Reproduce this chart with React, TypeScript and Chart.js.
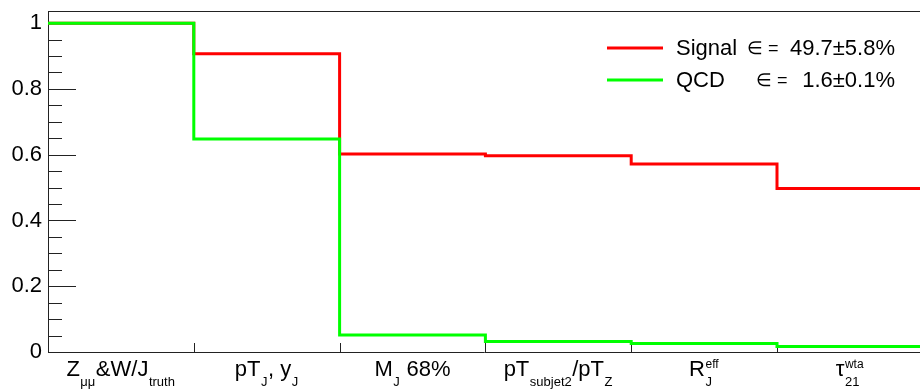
import React, { useEffect, useRef } from "react";
import { Chart, registerables } from "chart.js";

Chart.register(...registerables);

// ---- Data ----
const categories = [
  "Z_{μμ}&W/J_{truth}",
  "pT_{J}, y_{J}",
  "M_{J} 68%",
  "pT_{subjet2}/pT_{Z}",
  "R^{eff}_{J}",
  "τ^{wta}_{21}",
];
const signalValues = [1.0, 0.907, 0.602, 0.597, 0.572, 0.497];
const qcdValues = [1.0, 0.648, 0.052, 0.032, 0.026, 0.017];
const seriesNames = ["Signal", "QCD"];
const seriesEff = ["49.7±5.8%", "1.6±0.1%"];
const seriesColors = ["#ff0000", "#00ff00"];
const yTickValues = [0, 0.2, 0.4, 0.6, 0.8, 1];
const yTickLabels = ["0", "0.2", "0.4", "0.6", "0.8", "1"];
const yMinorStep = 0.05;
const yMax = 1.037;

const FONT = "'Liberation Sans', Arial, Helvetica, sans-serif";
const BASE_SIZE = 22;
const SUB_SIZE = 13;
const SUP_SIZE = 12;

type Seg = { kind: "base"; t: string } | { kind: "script"; sup?: string; sub?: string };

function parseLatex(s: string): Seg[] {
  const segs: Seg[] = [];
  let i = 0;
  let buf = "";
  const readGroup = () => {
    if (s[i] === "{") {
      const j = s.indexOf("}", i);
      const g = s.slice(i + 1, j);
      i = j + 1;
      return g;
    }
    const c = s[i];
    i++;
    return c;
  };
  while (i < s.length) {
    const c = s[i];
    if (c === "_" || c === "^") {
      if (buf) {
        segs.push({ kind: "base", t: buf });
        buf = "";
      }
      const sc: any = { kind: "script" };
      while (i < s.length && (s[i] === "_" || s[i] === "^")) {
        const k = s[i];
        i++;
        const g = readGroup();
        if (k === "_") sc.sub = g;
        else sc.sup = g;
      }
      segs.push(sc);
    } else {
      buf += c;
      i++;
    }
  }
  if (buf) segs.push({ kind: "base", t: buf });
  return segs;
}

function drawRich(ctx: CanvasRenderingContext2D, text: string, cx: number, baseline: number) {
  const segs = parseLatex(text);
  const widths: number[] = segs.map((sg) => {
    if (sg.kind === "base") {
      ctx.font = `${BASE_SIZE}px ${FONT}`;
      return ctx.measureText(sg.t).width;
    }
    let w = 0;
    if (sg.sub) {
      ctx.font = `${SUB_SIZE}px ${FONT}`;
      w = Math.max(w, ctx.measureText(sg.sub).width);
    }
    if (sg.sup) {
      ctx.font = `${SUP_SIZE}px ${FONT}`;
      w = Math.max(w, ctx.measureText(sg.sup).width);
    }
    return w + 1;
  });
  const total = widths.reduce((a, b) => a + b, 0);
  let x = cx - total / 2;
  ctx.textAlign = "left";
  ctx.textBaseline = "alphabetic";
  ctx.fillStyle = "#000";
  segs.forEach((sg, k) => {
    if (sg.kind === "base") {
      ctx.font = `${BASE_SIZE}px ${FONT}`;
      ctx.fillText(sg.t, x, baseline);
    } else {
      if (sg.sub) {
        ctx.font = `${SUB_SIZE}px ${FONT}`;
        ctx.fillText(sg.sub, x + 0.5, baseline + 10);
      }
      if (sg.sup) {
        ctx.font = `${SUP_SIZE}px ${FONT}`;
        ctx.fillText(sg.sup, x + 0.5, baseline - 8);
      }
    }
    x += widths[k];
  });
}

const framePlugin = {
  id: "rootFrame",
  beforeDatasetsDraw(chart: any) {
    const { ctx, chartArea, scales } = chart;
    const y = scales.y;
    const x = scales.x;
    ctx.save();
    ctx.strokeStyle = "#222";
    ctx.lineWidth = 1;
    ctx.beginPath();
    const top = Math.round(chartArea.top) + 0.5;
    ctx.moveTo(chartArea.left, top);
    ctx.lineTo(chartArea.right, top);
    const left = Math.round(chartArea.left);
    const nMinor = Math.round(1 / yMinorStep);
    for (let i = 0; i <= nMinor; i++) {
      const v = i * yMinorStep;
      const major = yTickValues.some((t) => Math.abs(t - v) < 1e-6);
      const py = Math.round(y.getPixelForValue(v)) + 0.5;
      ctx.moveTo(left, py);
      ctx.lineTo(left + (major ? 28 : 14), py);
    }
    const bottom = Math.round(chartArea.bottom);
    for (let i = 1; i < categories.length; i++) {
      const px = Math.round(x.getPixelForValue(i)) + 0.5;
      ctx.moveTo(px, bottom);
      ctx.lineTo(px, bottom - 9);
    }
    ctx.stroke();
    ctx.restore();
  },
  afterDraw(chart: any) {
    const { ctx, scales } = chart;
    const x = scales.x;
    ctx.save();
    categories.forEach((c, i) => {
      const cx = x.getPixelForValue(i + 0.5);
      drawRich(ctx, c, cx, 376);
    });
    const rows = [48, 80];
    const epsX = [747, 756];
    seriesNames.forEach((name, i) => {
      const ly = rows[i];
      ctx.strokeStyle = seriesColors[i];
      ctx.lineWidth = 3;
      ctx.beginPath();
      ctx.moveTo(607, ly);
      ctx.lineTo(663, ly);
      ctx.stroke();
      ctx.fillStyle = "#000";
      ctx.textBaseline = "alphabetic";
      ctx.textAlign = "left";
      ctx.font = `${BASE_SIZE}px ${FONT}`;
      ctx.fillText(name, 676, ly + 7);
      ctx.font = `18px ${FONT}`;
      ctx.fillText("∈ =", epsX[i], ly + 6);
      ctx.font = `${BASE_SIZE}px ${FONT}`;
      ctx.textAlign = "right";
      ctx.fillText(seriesEff[i], 895, ly + 7);
    });
    ctx.restore();
  },
};

function histPoints(vals: number[]) {
  const pts = vals.map((v, i) => ({ x: i, y: v }));
  pts.push({ x: vals.length, y: vals[vals.length - 1] });
  return pts;
}

function zeroPad(s: any) {
  s.paddingTop = 0;
  s.paddingBottom = 0;
  s.paddingLeft = 0;
  s.paddingRight = 0;
}

export default function App() {
  const ref = useRef<HTMLCanvasElement | null>(null);
  useEffect(() => {
    if (!ref.current) return;
    const chart = new Chart(ref.current, {
      type: "scatter",
      data: {
        datasets: [
          {
            label: seriesNames[1],
            data: histPoints(qcdValues),
            borderColor: seriesColors[1],
            backgroundColor: seriesColors[1],
            borderWidth: 3,
            showLine: true,
            stepped: "before",
            pointRadius: 0,
            borderJoinStyle: "miter",
            borderCapStyle: "butt",
            order: 0,
          },
          {
            label: seriesNames[0],
            data: histPoints(signalValues),
            borderColor: seriesColors[0],
            backgroundColor: seriesColors[0],
            borderWidth: 3,
            showLine: true,
            stepped: "before",
            pointRadius: 0,
            borderJoinStyle: "miter",
            borderCapStyle: "butt",
            order: 1,
          },
        ],
      } as any,
      options: {
        animation: false,
        responsive: false,
        layout: { padding: { top: 11, right: 0, left: 0, bottom: 0 } },
        plugins: { legend: { display: false }, tooltip: { enabled: false } },
        scales: {
          x: {
            type: "linear",
            min: 0,
            max: 872 / 145.8,
            grid: { display: false, drawTicks: false },
            border: { display: true, color: "#222", width: 1 },
            ticks: { display: false },
            afterFit: (s: any) => {
              s.height = 38;
              zeroPad(s);
            },
          },
          y: {
            type: "linear",
            min: 0,
            max: yMax,
            grid: { display: false, drawTicks: false },
            border: { display: true, color: "#222", width: 1 },
            afterBuildTicks: (s: any) => {
              s.ticks = yTickValues.map((v) => ({ value: v }));
            },
            ticks: {
              padding: 6,
              color: "#000",
              font: { family: FONT, size: BASE_SIZE },
              callback: (v: any) => {
                const idx = yTickValues.findIndex((t) => Math.abs(t - Number(v)) < 1e-6);
                return idx >= 0 ? yTickLabels[idx] : "";
              },
            },
            afterFit: (s: any) => {
              s.width = 48;
              zeroPad(s);
            },
          },
        },
      } as any,
      plugins: [framePlugin],
    });
    return () => chart.destroy();
  }, []);
  return (
    <div style={{ position: "fixed", left: 0, top: 0, width: 920, height: 390, background: "#fff" }}>
      <canvas ref={ref} width={920} height={390} />
    </div>
  );
}
